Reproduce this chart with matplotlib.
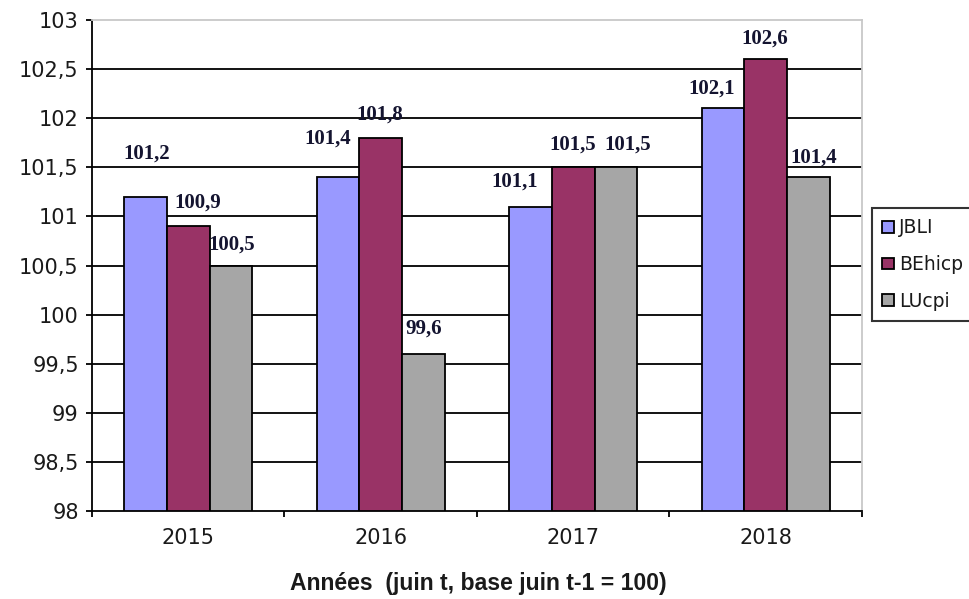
import matplotlib
matplotlib.use("Agg")
import matplotlib.pyplot as plt
import numpy as np

years = ["2015", "2016", "2017", "2018"]
series_names = ["JBLI", "BEhicp", "LUcpi"]
jbli = [101.2, 101.4, 101.1, 102.1]
behicp = [100.9, 101.8, 101.5, 102.6]
lucpi = [100.5, 99.6, 101.5, 101.4]
yticks = [98, 98.5, 99, 99.5, 100, 100.5, 101, 101.5, 102, 102.5, 103]
ytick_labels = ["98", "98,5", "99", "99,5", "100", "100,5", "101", "101,5", "102", "102,5", "103"]
xlabel_text = "Années  (juin t, base juin t-1 = 100)"

colors = ["#9999FF", "#993366", "#A6A6A6"]
# label offsets (pixels) dx, dy above bar top, per series per year
label_dx = [[1, -10, -16, -11], [10, -1, -1, -1], [1, 0, 12, 5]]
label_dy = [[43, 39, 25, 20], [24, 23, 23, 21], [21, 25, 23, 20]]

fig = plt.figure(figsize=(9.70, 5.99), dpi=100)
ax = fig.add_axes([92/970, 1-511/599, 770/970, 491/599])

x = np.arange(len(years))
w = 1/4.5
all_series = [jbli, behicp, lucpi]
for i, (vals, name, c) in enumerate(zip(all_series, series_names, colors)):
    xs = x + (i-1)*w
    ax.bar(xs, np.array(vals)-98, bottom=98, width=w, color=c,
           edgecolor="black", linewidth=1.3, label=name, zorder=3)
    for j, (xx, v) in enumerate(zip(xs, vals)):
        ax.annotate(f"{v:.1f}".replace(".", ","), xy=(xx, v),
                    xytext=(label_dx[i][j], label_dy[i][j]), textcoords="offset pixels",
                    ha="center", va="center", fontsize=15, fontweight="bold",
                    family="Liberation Serif", color="#141430", zorder=5)

ax.set_ylim(98, 103)
ax.set_xlim(-0.5, len(years)-0.5)
ax.set_yticks(yticks)
ax.set_yticklabels(ytick_labels)
for yv in yticks[1:-1]:
    ax.axhline(yv, color="black", linewidth=1.3, zorder=1)

ax.set_xticks(x)
ax.set_xticklabels(years)
ax.set_xticks(np.arange(-0.5, len(years)), minor=True)
ax.tick_params(axis="x", which="major", length=0, pad=12, labelsize=15)
ax.tick_params(axis="x", which="minor", length=4.5, width=1.3, direction="out")
ax.tick_params(axis="y", which="major", length=4.5, width=1.3, direction="out", pad=5, labelsize=15)
for lab in ax.get_xticklabels() + ax.get_yticklabels():
    lab.set_family("DejaVu Sans")
    lab.set_color("#1a1a1a")

ax.spines["left"].set_color("black")
ax.spines["left"].set_linewidth(1.3)
ax.spines["bottom"].set_color("black")
ax.spines["bottom"].set_linewidth(1.3)
ax.spines["top"].set_color("#C8C8C8")
ax.spines["right"].set_color("#C8C8C8")
ax.spines["top"].set_linewidth(1.3)
ax.spines["right"].set_linewidth(1.3)

fig.text(478/970, 1-590/599, xlabel_text, ha="center", va="baseline",
         fontsize=16.6, fontweight="bold", family="Liberation Sans", color="#1a1a1a")

leg = ax.legend(loc="upper left", bbox_to_anchor=(872/970, 1-208/599),
                bbox_transform=fig.transFigure, frameon=True, fancybox=False,
                edgecolor="black", handlelength=0.6, handleheight=0.6,
                handletextpad=0.3, labelspacing=0.95, borderpad=0.55, borderaxespad=0,
                prop={"family": "DejaVu Sans", "size": 13.5})
leg.get_frame().set_linewidth(1.5)
for t in leg.get_texts():
    t.set_color("#1a1a1a")

fig.savefig("out.png", dpi=100)
